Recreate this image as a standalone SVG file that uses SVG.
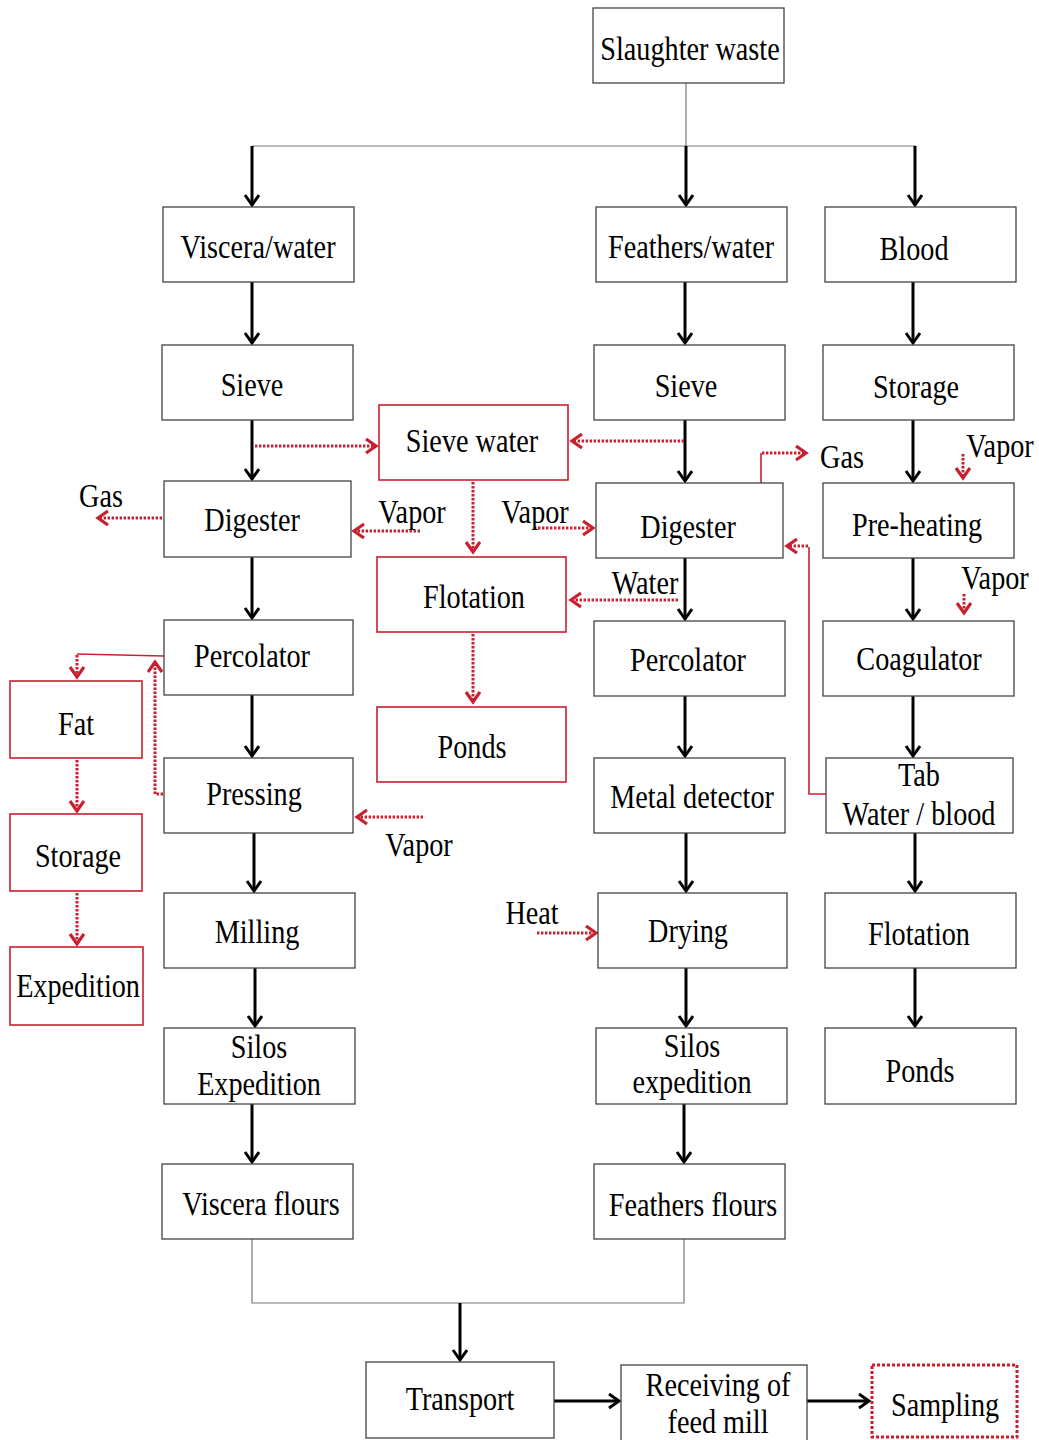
<svg xmlns="http://www.w3.org/2000/svg" width="1039" height="1440" viewBox="0 0 1039 1440">
<style>
text{font-family:"Liberation Serif","Times New Roman",serif;font-size:34px;fill:#000;text-anchor:middle;transform-box:fill-box;transform-origin:center;transform:scaleX(0.83)}
.b{fill:#fff;stroke:#444;stroke-width:1.3}
.r{fill:#fff;stroke:#C8202F;stroke-width:1.6}
.s{fill:#fff;stroke:#C8202F;stroke-width:3;stroke-dasharray:3 2}
.k{fill:none;stroke:#000;stroke-width:3}
.t{fill:none;stroke:#777;stroke-width:1.2}
.d{fill:none;stroke:#C8202F;stroke-width:3;stroke-dasharray:2.4 1.6}
.l{fill:none;stroke:#C8202F;stroke-width:1.6}
</style>
<defs>
<marker id="ak" markerUnits="userSpaceOnUse" markerWidth="20" markerHeight="20" refX="11" refY="8" orient="auto">
<path d="M1,1 L11,8 L1,15" fill="none" stroke="#000" stroke-width="3"/>
</marker>
<marker id="ar" markerUnits="userSpaceOnUse" markerWidth="20" markerHeight="20" refX="11" refY="8" orient="auto">
<path d="M1,1 L11,8 L1,15" fill="none" stroke="#C8202F" stroke-width="3.2"/>
</marker>
</defs>
<rect width="1039" height="1440" fill="#fff"/>

<g id="connectors">
<path class="t" d="M686,83 V146 M252,146 H916 M252,1239 V1303 H684 V1239"/>
<path class="k" marker-end="url(#ak)" d="M252,146 V205"/>
<path class="k" marker-end="url(#ak)" d="M686,146 V205"/>
<path class="k" marker-end="url(#ak)" d="M915,146 V205"/>
<path class="k" marker-end="url(#ak)" d="M252,282 V343"/>
<path class="k" marker-end="url(#ak)" d="M252,420 V479"/>
<path class="k" marker-end="url(#ak)" d="M252,557 V618"/>
<path class="k" marker-end="url(#ak)" d="M252,695 V756"/>
<path class="k" marker-end="url(#ak)" d="M254,833 V891"/>
<path class="k" marker-end="url(#ak)" d="M255,968 V1026"/>
<path class="k" marker-end="url(#ak)" d="M252,1104 V1162"/>
<path class="k" marker-end="url(#ak)" d="M685,282 V343"/>
<path class="k" marker-end="url(#ak)" d="M685,420 V481"/>
<path class="k" marker-end="url(#ak)" d="M685,558 V619"/>
<path class="k" marker-end="url(#ak)" d="M685,696 V756"/>
<path class="k" marker-end="url(#ak)" d="M686,833 V891"/>
<path class="k" marker-end="url(#ak)" d="M686,968 V1026"/>
<path class="k" marker-end="url(#ak)" d="M684,1104 V1162"/>
<path class="k" marker-end="url(#ak)" d="M913,282 V343"/>
<path class="k" marker-end="url(#ak)" d="M913,420 V481"/>
<path class="k" marker-end="url(#ak)" d="M913,558 V619"/>
<path class="k" marker-end="url(#ak)" d="M913,696 V756"/>
<path class="k" marker-end="url(#ak)" d="M915,833 V891"/>
<path class="k" marker-end="url(#ak)" d="M915,968 V1026"/>
<path class="k" marker-end="url(#ak)" d="M460,1303 V1360"/>
<path class="k" marker-end="url(#ak)" d="M554,1401 H619"/>
<path class="k" marker-end="url(#ak)" d="M807,1401 H869"/>

<path class="d" marker-end="url(#ar)" d="M255,446 H376"/>
<path class="d" marker-end="url(#ar)" d="M684,441 H572"/>
<path class="d" marker-end="url(#ar)" d="M473,482 V552"/>
<path class="d" marker-end="url(#ar)" d="M420,531 H354"/>
<path class="d" marker-end="url(#ar)" d="M534,528 H593"/>
<path class="d" marker-end="url(#ar)" d="M162,518 H98"/>
<path class="d" marker-end="url(#ar)" d="M678,600 H571"/>
<path class="d" marker-end="url(#ar)" d="M473,634 V702"/>
<path class="l" d="M761,483 V453"/>
<path class="d" marker-end="url(#ar)" d="M762,453 H806"/>
<path class="d" marker-end="url(#ar)" d="M963,454 V478"/>
<path class="d" marker-end="url(#ar)" d="M964,594 V613"/>
<path class="l" d="M826,794 H809 V547"/>
<path class="d" marker-end="url(#ar)" d="M808,546 H787"/>
<path class="l" d="M164,656 L77,654"/>
<path class="d" marker-end="url(#ar)" d="M77,655 V677"/>
<path class="d" marker-end="url(#ar)" d="M163,794 H155 V662"/>
<path class="d" marker-end="url(#ar)" d="M77,760 V811"/>
<path class="d" marker-end="url(#ar)" d="M77,893 V944"/>
<path class="d" marker-end="url(#ar)" d="M423,817 H357"/>
<path class="d" marker-end="url(#ar)" d="M537,933 H596"/>
</g>

<g id="n-slaughter"><rect class="b" x="593" y="8" width="191" height="75"/><text x="690" y="60">Slaughter waste</text></g>
<g id="n-viscera-water"><rect class="b" x="163" y="207" width="191" height="75"/><text x="258" y="258">Viscera/water</text></g>
<g id="n-feathers-water"><rect class="b" x="596" y="207" width="191" height="75"/><text x="691" y="258">Feathers/water</text></g>
<g id="n-blood"><rect class="b" x="825" y="207" width="191" height="75"/><text x="914" y="260">Blood</text></g>
<g id="n-sieve-l"><rect class="b" x="162" y="345" width="191" height="75"/><text x="252" y="396">Sieve</text></g>
<g id="n-sieve-water"><rect class="r" x="379" y="405" width="189" height="75"/><text x="472" y="452">Sieve water</text></g>
<g id="n-sieve-m"><rect class="b" x="594" y="345" width="191" height="75"/><text x="686" y="397">Sieve</text></g>
<g id="n-storage-r"><rect class="b" x="823" y="345" width="191" height="75"/><text x="916" y="398">Storage</text></g>
<g id="n-digester-l"><rect class="b" x="164" y="481" width="187" height="76"/><text x="252" y="531">Digester</text></g>
<g id="n-flotation-m"><rect class="r" x="377" y="557" width="189" height="75"/><text x="474" y="608">Flotation</text></g>
<g id="n-digester-m"><rect class="b" x="596" y="483" width="187" height="75"/><text x="688" y="538">Digester</text></g>
<g id="n-preheating"><rect class="b" x="823" y="483" width="191" height="75"/><text x="917" y="536">Pre-heating</text></g>
<g id="n-percolator-l"><rect class="b" x="164" y="620" width="189" height="75"/><text x="252" y="667">Percolator</text></g>
<g id="n-fat"><rect class="r" x="10" y="681" width="132" height="77"/><text x="76" y="735">Fat</text></g>
<g id="n-ponds-m"><rect class="r" x="377" y="707" width="189" height="75"/><text x="472" y="758">Ponds</text></g>
<g id="n-percolator-m"><rect class="b" x="594" y="621" width="191" height="75"/><text x="688" y="671">Percolator</text></g>
<g id="n-coagulator"><rect class="b" x="823" y="621" width="191" height="75"/><text x="919" y="670">Coagulator</text></g>
<g id="n-pressing"><rect class="b" x="164" y="758" width="189" height="75"/><text x="254" y="805">Pressing</text></g>
<g id="n-storage-l"><rect class="r" x="10" y="814" width="132" height="77"/><text x="78" y="867">Storage</text></g>
<g id="n-metal"><rect class="b" x="594" y="758" width="191" height="75"/><text x="692" y="808">Metal detector</text></g>
<g id="n-tab"><rect class="b" x="826" y="758" width="187" height="75"/><text x="919" y="786">Tab</text><text x="919" y="825">Water / blood</text></g>
<g id="n-milling"><rect class="b" x="164" y="893" width="191" height="75"/><text x="257" y="943">Milling</text></g>
<g id="n-expedition-l"><rect class="r" x="10" y="947" width="133" height="78"/><text x="78" y="997">Expedition</text></g>
<g id="n-drying"><rect class="b" x="598" y="893" width="189" height="75"/><text x="688" y="942">Drying</text></g>
<g id="n-flotation-r"><rect class="b" x="825" y="893" width="191" height="75"/><text x="919" y="945">Flotation</text></g>
<g id="n-silos-l"><rect class="b" x="164" y="1028" width="191" height="76"/><text x="259" y="1058">Silos</text><text x="259" y="1095">Expedition</text></g>
<g id="n-silos-m"><rect class="b" x="596" y="1028" width="191" height="76"/><text x="692" y="1057">Silos</text><text x="692" y="1093">expedition</text></g>
<g id="n-ponds-r"><rect class="b" x="825" y="1028" width="191" height="76"/><text x="920" y="1082">Ponds</text></g>
<g id="n-viscera-flours"><rect class="b" x="162" y="1164" width="191" height="75"/><text x="261" y="1215">Viscera flours</text></g>
<g id="n-feathers-flours"><rect class="b" x="594" y="1164" width="191" height="75"/><text x="693" y="1216">Feathers flours</text></g>
<g id="n-transport"><rect class="b" x="366" y="1362" width="188" height="76"/><text x="460" y="1410">Transport</text></g>
<g id="n-receiving"><rect class="b" x="621" y="1365" width="186" height="80"/><text x="718" y="1396">Receiving of</text><text x="718" y="1433">feed mill</text></g>
<g id="n-sampling"><rect class="s" x="872" y="1365" width="145" height="72"/><text x="945" y="1416">Sampling</text></g>

<g id="labels">
<text x="101" y="507">Gas</text>
<text x="412" y="523">Vapor</text>
<text x="535" y="523">Vapor</text>
<text x="645" y="594">Water</text>
<text x="842" y="468">Gas</text>
<text x="1000" y="457">Vapor</text>
<text x="995" y="589">Vapor</text>
<text x="419" y="856">Vapor</text>
<text x="532" y="924">Heat</text>
</g>
</svg>
